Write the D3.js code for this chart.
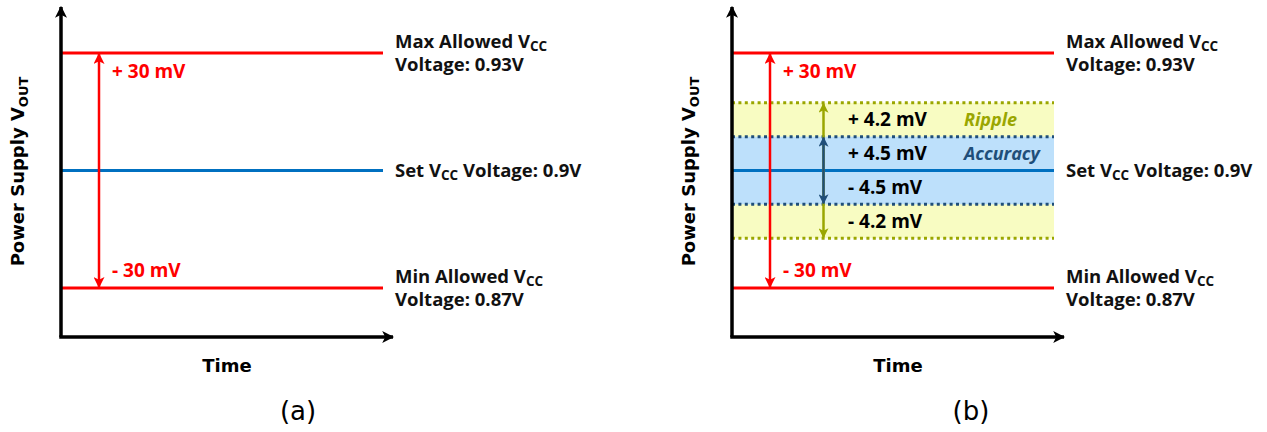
<!DOCTYPE html>
<html>
<head>
<meta charset="utf-8">
<script src="https://d3js.org/d3.v7.min.js"></script>
<style>
  body { margin: 0; background: #fff; }
  svg { display: block; }
</style>
</head>
<body>
<div id="chart"></div>
<script>
// schematic values (not to scale in the original either)
const panelNames = ["(a)", "(b)"];
const setVoltage = 0.9;
const limitNames = ["Max Allowed", "Min Allowed"];
const limitVoltages = [0.93, 0.87];
const limitOffsets = ["+ 30 mV", "- 30 mV"];
const bandNames = ["Accuracy", "Ripple"];
const bandOffsetsMv = [4.5, 4.2];

const W = 1267, H = 432;
const labelFont = "'Open Sans', 'Noto Sans', sans-serif";
const axisFont = "'DejaVu Sans', Verdana, sans-serif";

const red = "#ff0000", setBlue = "#0070c0";
const navy = "#1f4e79", olive = "#9aa600";
const bandFill = ["#bde0fb", "#f8fcc2"];
const bandEdge = [navy, olive];

const svg = d3.select("#chart").append("svg")
    .attr("width", W)
    .attr("height", H);

const defs = svg.append("defs");
function marker(id, color, size) {
    defs.append("marker")
        .attr("id", id)
        .attr("viewBox", "0 0 10 10")
        .attr("refX", 9).attr("refY", 5)
        .attr("markerWidth", size).attr("markerHeight", size)
        .attr("markerUnits", "userSpaceOnUse")
        .attr("orient", "auto-start-reverse")
        .append("path")
        .attr("d", "M0,0 L10,5 L0,10 L2.5,5 Z")
        .attr("fill", color);
}
marker("arRed", red, 11);
marker("arOlive", olive, 10);
marker("arNavy", navy, 10);
marker("arBlack", "#000", 12);

// schematic y: level 0 = set voltage, +-1 accuracy edge, +-2 ripple edge
const limitLevel = 3.47;
const y = d3.scaleLinear().domain([-limitLevel, limitLevel]).range([288, 53]);
const x = d3.scaleLinear().domain([0, 1]).range([0, 322]);

// turn band list into cumulative levels
const bands = bandNames.map((name, i) => ({ name, mv: bandOffsetsMv[i], level: i + 1 }));

function panel(g, withBands) {
    if (withBands) {
        // outer bands first so inner ones sit on top
        bands.slice().reverse().forEach(b => {
            const i = bands.indexOf(b);
            g.append("rect")
                .attr("x", x(0))
                .attr("y", y(b.level))
                .attr("width", x(1) - x(0))
                .attr("height", y(-b.level) - y(b.level))
                .attr("fill", bandFill[i]);
        });
        bands.slice().reverse().forEach(b => {
            const i = bands.indexOf(b);
            [b.level, -b.level].forEach(l => {
                g.append("line")
                    .attr("x1", x(0)).attr("x2", x(1))
                    .attr("y1", y(l)).attr("y2", y(l))
                    .attr("stroke", bandEdge[i])
                    .attr("stroke-width", 3)
                    .attr("stroke-dasharray", "3,3.4");
            });
        });
    }

    // set voltage line
    g.append("line")
        .attr("x1", x(0)).attr("x2", x(1))
        .attr("y1", y(0)).attr("y2", y(0))
        .attr("stroke", setBlue).attr("stroke-width", 3);

    // limit lines
    limitVoltages.forEach((v, i) => {
        const l = v > setVoltage ? limitLevel : -limitLevel;
        g.append("line")
            .attr("x1", x(0)).attr("x2", x(1))
            .attr("y1", y(l)).attr("y2", y(l))
            .attr("stroke", red).attr("stroke-width", 3);
    });

    // red tolerance arrow
    g.append("line")
        .attr("x1", 38).attr("x2", 38)
        .attr("y1", y(limitLevel) + 1).attr("y2", y(-limitLevel) - 1)
        .attr("stroke", red).attr("stroke-width", 2.5)
        .attr("marker-start", "url(#arRed)")
        .attr("marker-end", "url(#arRed)");

    limitOffsets.forEach((t, i) => {
        const l = i === 0 ? limitLevel : -limitLevel;
        g.append("text")
            .attr("x", 51)
            .attr("y", y(l) + (i === 0 ? 18 : -18))
            .attr("dy", "0.35em")
            .attr("fill", red)
            .style("font", `700 19px ${labelFont}`)
            .text(t);
    });

    if (withBands) {
        const ax = 91.5;
        // ripple arrow spans whole outer band, accuracy arrow drawn over it
        bands.slice().reverse().forEach(b => {
            const i = bands.indexOf(b);
            g.append("line")
                .attr("x1", ax).attr("x2", ax)
                .attr("y1", y(b.level) + 1).attr("y2", y(-b.level) - 1)
                .attr("stroke", bandEdge[i]).attr("stroke-width", 2.5)
                .attr("marker-start", `url(#${i === 0 ? "arNavy" : "arOlive"})`)
                .attr("marker-end", `url(#${i === 0 ? "arNavy" : "arOlive"})`);
        });

        bands.forEach((b, i) => {
            const mid = (b.level + (b.level - 1)) / 2;
            [1, -1].forEach(s => {
                g.append("text")
                    .attr("x", 116)
                    .attr("y", y(s * mid))
                    .attr("dy", "0.35em")
                    .attr("fill", "#000")
                    .style("font", `700 19px ${labelFont}`)
                    .text(`${s > 0 ? "+" : "-"} ${b.mv} mV`);
            });
            g.append("text")
                .attr("x", 232)
                .attr("y", y(mid))
                .attr("dy", "0.35em")
                .attr("fill", bandEdge[i])
                .style("font", `italic 700 18px ${labelFont}`)
                .text(b.name);
        });
    }

    // axes
    g.append("line")
        .attr("x1", 0).attr("x2", 0)
        .attr("y1", 337).attr("y2", 7)
        .attr("stroke", "#000").attr("stroke-width", 3.5)
        .attr("marker-end", "url(#arBlack)");
    g.append("line")
        .attr("x1", -1.75).attr("x2", 332)
        .attr("y1", 337).attr("y2", 337)
        .attr("stroke", "#000").attr("stroke-width", 3.5)
        .attr("marker-end", "url(#arBlack)");

    // right side labels
    const lab = (yy, parts) => {
        const t = g.append("text")
            .attr("x", 334)
            .attr("y", yy)
            .attr("dy", "0.35em")
            .style("font", `700 18.5px ${labelFont}`)
            .attr("fill", "#111");
        parts.forEach(p => {
            const ts = t.append("tspan").text(p[0]);
            if (p[1]) ts.attr("font-size", "13.5px").attr("dy", "3");
            else if (p[2]) ts.attr("dy", "-3");
        });
    };
    limitVoltages.forEach((v, i) => {
        const yy = y(v > setVoltage ? limitLevel : -limitLevel);
        lab(yy - 11.5, [[limitNames[i] + " V"], ["CC", true]]);
        lab(yy + 11.5, [["Voltage: " + v + "V"]]);
    });
    lab(y(0), [["Set V"], ["CC", true], [" Voltage: " + setVoltage + "V", false, true]]);

    // axis titles
    g.append("text")
        .attr("transform", `translate(-43,${y(0) + 1}) rotate(-90)`)
        .attr("text-anchor", "middle")
        .attr("dy", "0.35em")
        .style("font", `700 18px ${axisFont}`)
        .call(t => {
            t.append("tspan").text("Power Supply V");
            t.append("tspan").text("OUT").attr("font-size", "13px").attr("dy", "4");
        });
    g.append("text")
        .attr("x", 166)
        .attr("y", 366)
        .attr("dy", "0.35em")
        .attr("text-anchor", "middle")
        .style("font", `700 18px ${axisFont}`)
        .text("Time");
}

panelNames.forEach((name, i) => {
    const g = svg.append("g").attr("transform", `translate(${61 + i * 671},0)`);
    panel(g, i === 1);
    g.append("text")
        .attr("x", 237 + i * 2)
        .attr("y", 411)
        .attr("dy", "0.35em")
        .attr("text-anchor", "middle")
        .style("font", `400 26px ${axisFont}`)
        .text(name);
});
</script>
</body>
</html>
